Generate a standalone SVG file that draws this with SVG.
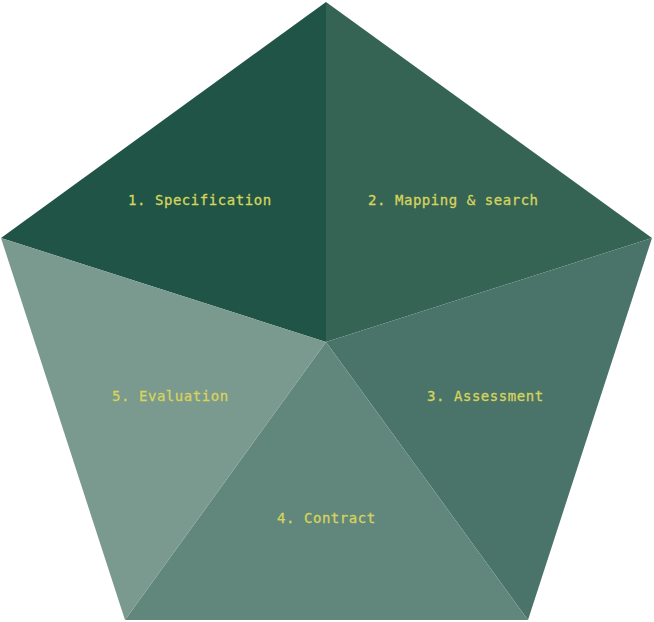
<svg xmlns="http://www.w3.org/2000/svg" width="654" height="622" viewBox="0 0 654 622">
<style>
.lbl{font-family:"DejaVu Sans Mono","Liberation Mono",monospace;font-size:14px;letter-spacing:0.55px;fill:#d6d45c;stroke:#d6d45c;stroke-width:0.3px}
</style>
<rect width="654" height="622" fill="#ffffff"/>
<g id="seg1"><polygon points="326,2 326,342 1,238" fill="#1f5446"/><text class="lbl" x="128" y="205">1. Specification</text></g>
<g id="seg2"><polygon points="326,2 652,238 326,342" fill="#356455"/><text class="lbl" x="368" y="205">2. Mapping &amp; search</text></g>
<g id="seg3"><polygon points="652,238 528,620 326,342" fill="#4a7469"/><text class="lbl" x="427" y="401">3. Assessment</text></g>
<g id="seg4"><polygon points="528,620 125,620 326,342" fill="#61877c"/><text class="lbl" x="277" y="523">4. Contract</text></g>
<g id="seg5"><polygon points="125,620 1,238 326,342" fill="#7a998f"/><text class="lbl" x="112" y="401">5. Evaluation</text></g>
<g id="connectors"></g>
</svg>
